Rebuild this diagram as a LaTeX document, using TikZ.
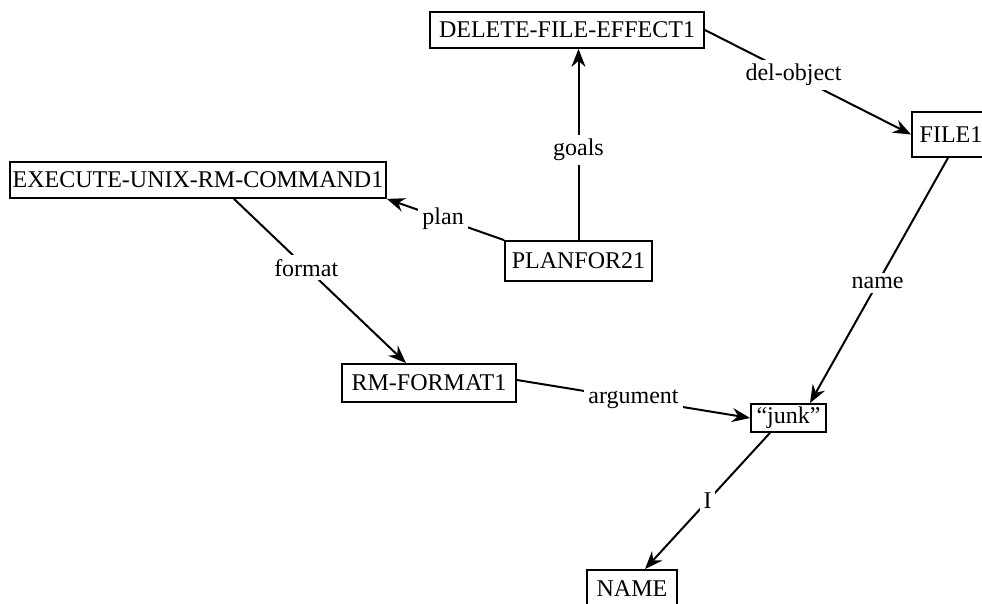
\documentclass[tikz,border=0pt]{standalone}
\usepackage{fontspec}
\setmainfont{Liberation Serif}
\usetikzlibrary{arrows.meta,calc}
\begin{document}
\begin{tikzpicture}[x=0.5pt,y=-0.5pt,
  box/.style={draw,line width=0.9pt,inner sep=0pt,font=\fontsize{12}{14}\selectfont},
  lbl/.style={fill=white,inner sep=2pt,font=\fontsize{12}{14}\selectfont},
  conn/.style={line width=1pt,-{Stealth[length=9pt,width=7pt,inset=3pt]}}]
\useasboundingbox (0,0) rectangle (982,604);
\node[box,minimum width=137pt,minimum height=18pt] (del) at (567,30) {DELETE-FILE-EFFECT1};
\node[box,minimum width=188pt,minimum height=18pt] (exec) at (198,180) {EXECUTE-UNIX-RM-COMMAND1};
\node[box,minimum width=73.5pt,minimum height=20pt] (plan) at (578.5,261) {PLANFOR21};
\node[box,minimum width=87pt,minimum height=19pt] (rm) at (429,383) {RM-FORMAT1};
\node[box,minimum width=37.5pt,minimum height=14pt] (junk) at (788.5,418) {“junk”};
\node[box,minimum width=39pt,minimum height=22.5pt] (file) at (951,134.5) {FILE1};
\node[box,minimum width=45pt,minimum height=19pt] (name) at (632,589) {NAME};
\draw[conn] (plan.north) -- node[lbl,pos=0.47]{goals} (plan.north |- del.south);
\draw[conn] (plan.north west) -- node[lbl,pos=0.52]{plan} (exec.south east);
\draw[conn] ([xshift=18pt]exec.south) -- node[lbl,pos=0.42]{format} ([xshift=-11.5pt]rm.north);
\draw[conn] (del.east) -- node[lbl,pos=0.43]{del-object} (file.west);
\draw[conn] ([xshift=-1.5pt]file.south) -- node[lbl,pos=0.51]{name} ([xshift=10.75pt]junk.north);
\draw[conn] ([yshift=1.5pt]rm.east) -- node[lbl,pos=0.5]{argument} (junk.west);
\draw[conn] ([xshift=-9.25pt]junk.south) -- node[lbl,pos=0.5]{I} ([xshift=6.5pt]name.north);
\end{tikzpicture}
\end{document}
